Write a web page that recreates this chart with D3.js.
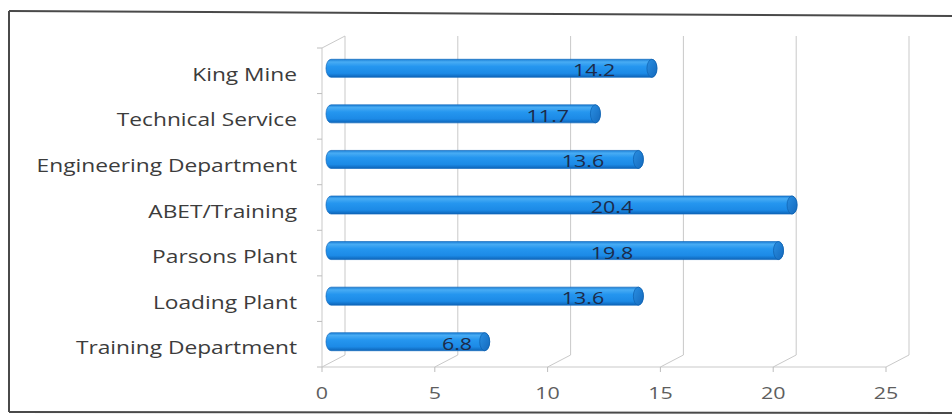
<!DOCTYPE html>
<html>
<head>
<meta charset="utf-8">
<script src="https://cdn.jsdelivr.net/npm/d3@7"></script>
<style>
  html, body { margin: 0; padding: 0; background: #fff; }
  svg { display: block; }
</style>
</head>
<body>
<svg id="chart" width="952" height="417"></svg>
<script>
// Departments, top to bottom
const categories = [
  "King Mine",
  "Technical Service",
  "Engineering Department",
  "ABET/Training",
  "Parsons Plant",
  "Loading Plant",
  "Training Department"
];
const values = [14.2, 11.7, 13.6, 20.4, 19.8, 13.6, 6.8];
const tickValues = [0, 5, 10, 15, 20, 25];
const tickLabels = ["0", "5", "10", "15", "20", "25"];

const svg = d3.select("#chart");
const FONT = "'Open Sans', 'Noto Sans', sans-serif";

// 3D box geometry: front plane plus a depth offset toward the back wall
const depth = { dx: 23, dy: -12 };
const xFront = d3.scaleLinear().domain([0, 25]).range([322, 886]);
const xBack = v => xFront(v) + depth.dx;
const y = d3.scaleBand().domain(categories).range([48, 367]).paddingInner(0).paddingOuter(0);
const floorY = y.range()[1];
const topY = y.range()[0];

// Bars sit half-way into the depth of the box
const xBar = d3.scaleLinear().domain([0, 25]).range([331, 331 + 565]);
const barH = 18;
const barCy = c => y(c) + y.bandwidth() / 2 - 2.5;

// Frame around the chart area
const frame = svg.append("g").attr("fill", "none").attr("stroke", "#4a4a4a");
frame.append("line").attr("x1", 9).attr("y1", 11).attr("x2", 952).attr("y2", 16).attr("stroke-width", 2);
frame.append("line").attr("x1", 9).attr("y1", 11).attr("x2", 9).attr("y2", 412).attr("stroke-width", 2);
frame.append("line").attr("x1", 9).attr("y1", 412).attr("x2", 952).attr("y2", 413).attr("stroke-width", 2);

// Walls and grid
const grid = svg.append("g").attr("stroke", "#c9c9c9").attr("stroke-width", 1).attr("fill", "none");
// back-wall gridlines
grid.selectAll("line.g").data(tickValues).join("line")
  .attr("class", "g")
  .attr("x1", d => xBack(d)).attr("x2", d => xBack(d))
  .attr("y1", topY + depth.dy).attr("y2", floorY + depth.dy);
// floor depth lines
grid.selectAll("line.f").data(tickValues).join("line")
  .attr("class", "f")
  .attr("x1", d => xFront(d)).attr("y1", floorY)
  .attr("x2", d => xBack(d)).attr("y2", floorY + depth.dy);
// floor front edge
grid.append("line")
  .attr("x1", xFront(0)).attr("x2", xFront(25))
  .attr("y1", floorY).attr("y2", floorY);
// left wall: front edge and top edge
grid.append("line")
  .attr("x1", xFront(0)).attr("x2", xFront(0))
  .attr("y1", topY).attr("y2", floorY);
grid.append("line")
  .attr("x1", xFront(0)).attr("y1", topY)
  .attr("x2", xBack(0)).attr("y2", topY + depth.dy);

// value axis tick marks
const ticks = svg.append("g").attr("stroke", "#bdbdbd");
ticks.selectAll("line").data(tickValues).join("line")
  .attr("x1", d => xFront(d)).attr("x2", d => xFront(d))
  .attr("y1", floorY).attr("y2", floorY + 5);
// category axis tick marks at band edges
const edges = categories.map(c => y(c)).concat([floorY]);
ticks.selectAll("line.c").data(edges).join("line")
  .attr("class", "c")
  .attr("x1", xFront(0) - 5).attr("x2", xFront(0))
  .attr("y1", d => d).attr("y2", d => d);

// Cylinder gradients
const defs = svg.append("defs");
const body = defs.append("linearGradient").attr("id", "cyl").attr("x1", 0).attr("y1", 0).attr("x2", 0).attr("y2", 1);
[["0%", "#1b7fd6"], ["15%", "#48acf4"], ["40%", "#2596ef"], ["78%", "#1c8ae6"], ["100%", "#0d64b8"]]
  .forEach(([o, c]) => body.append("stop").attr("offset", o).attr("stop-color", c));
const cap = defs.append("linearGradient").attr("id", "cap").attr("x1", 0).attr("y1", 0).attr("x2", 1).attr("y2", 1);
[["0%", "#2a8fe2"], ["100%", "#1469bd"]]
  .forEach(([o, c]) => cap.append("stop").attr("offset", o).attr("stop-color", c));

const rx = 5;
const bars = svg.append("g").selectAll("g").data(categories).join("g");
bars.append("path")
  .attr("d", (c, i) => {
    const x0 = xBar(0), x1 = xBar(values[i]), cy = barCy(c), h = barH / 2;
    return `M${x0},${cy - h} L${x1},${cy - h} A${rx},${h} 0 0 1 ${x1},${cy + h}` +
           ` L${x0},${cy + h} A${rx},${h} 0 0 1 ${x0},${cy - h} Z`;
  })
  .attr("fill", "url(#cyl)")
  .attr("stroke", "#1168bb").attr("stroke-width", 0.7);
bars.append("ellipse")
  .attr("cx", (c, i) => xBar(values[i]))
  .attr("cy", c => barCy(c))
  .attr("rx", rx).attr("ry", barH / 2)
  .attr("fill", "url(#cap)")
  .attr("stroke", "#0f60ad").attr("stroke-width", 0.7);

// Text is drawn with a horizontal stretch to match the wide lettering
const stretch = 1.3;
function stretched(sel, x, yPos, anchor) {
  sel.attr("transform", `translate(${x},${yPos}) scale(${stretch},1)`)
     .attr("text-anchor", anchor);
  return sel;
}

// value labels
bars.append("text")
  .each(function (c, i) {
    const len = xBar(values[i]) - xBar(0);
    const lx = xBar(0) + Math.min(0.82 * len, 281);
    stretched(d3.select(this), lx, barCy(c) + 8, "middle");
  })
  .attr("font-family", FONT).attr("font-size", 16.5)
  .attr("fill", "#1c2b4a")
  .text((c, i) => values[i]);

// category labels
svg.append("g").selectAll("text").data(categories).join("text")
  .each(function (c) {
    stretched(d3.select(this), 297, y(c) + y.bandwidth() / 2 + 10, "end");
  })
  .attr("font-family", FONT).attr("font-size", 17.5)
  .attr("fill", "#3c3c3c")
  .text(d => d);

// value axis labels
svg.append("g").selectAll("text").data(tickValues).join("text")
  .each(function (d) {
    stretched(d3.select(this), xFront(d), 399, "middle");
  })
  .attr("font-family", FONT).attr("font-size", 16.5)
  .attr("fill", "#5e5e5e")
  .text((d, i) => tickLabels[i]);
</script>
</body>
</html>
